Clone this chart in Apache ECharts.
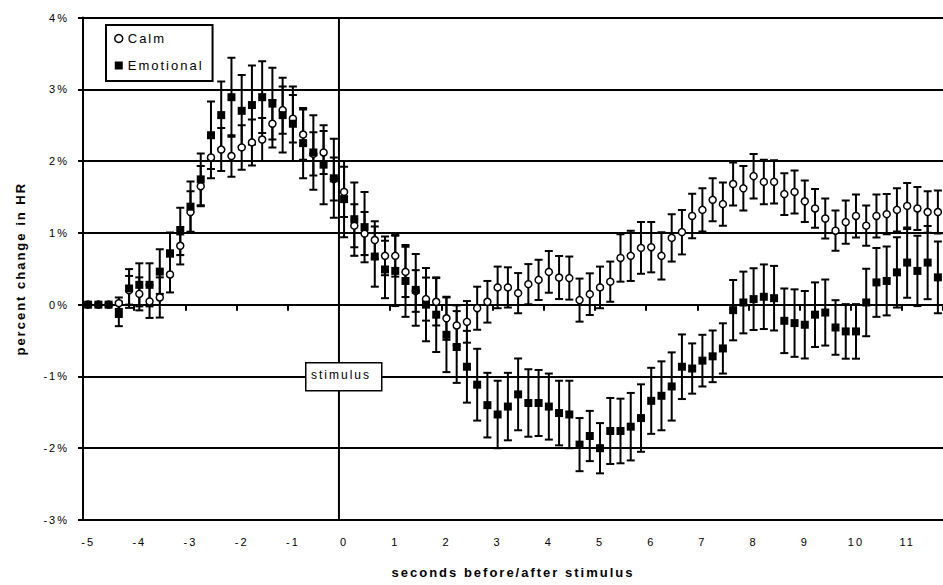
<!DOCTYPE html>
<html>
<head>
<meta charset="utf-8">
<script src="https://cdn.jsdelivr.net/npm/echarts@6/dist/echarts.min.js"></script>
<style>
  html, body { margin: 0; padding: 0; background: #fff; }
  #chart { width: 943px; height: 585px; }
  #chart text { letter-spacing: 2px; }
</style>
</head>
<body>
<div id="chart"></div>
<script>
// time of each sample (s), 0.2 s apart
const seconds = [-5,-4.8,-4.6,-4.4,-4.2,-4,-3.8,-3.6,-3.4,-3.2,-3,-2.8,-2.6,-2.4,-2.2,-2,-1.8,-1.6,-1.4,-1.2,-1,-0.8,-0.6,-0.4,-0.2,0,0.2,0.4,0.6,0.8,1,1.2,1.4,1.6,1.8,2,2.2,2.4,2.6,2.8,3,3.2,3.4,3.6,3.8,4,4.2,4.4,4.6,4.8,5,5.2,5.4,5.6,5.8,6,6.2,6.4,6.6,6.8,7,7.2,7.4,7.6,7.8,8,8.2,8.4,8.6,8.8,9,9.2,9.4,9.6,9.8,10,10.2,10.4,10.6,10.8,11,11.2,11.4,11.6];
const xTickLabels = ['-5','-4','-3','-2','-1','0','1','2','3','4','5','6','7','8','9','10','11'];
const yTickLabels = ['-3%','-2%','-1%','0%','1%','2%','3%','4%'];

// Calm: mean % change in HR and error (±)
const calmMean = [0,0,0,0.02,0.2,0.15,0.045,0.10,0.42,0.82,1.29,1.65,2.05,2.16,2.07,2.19,2.26,2.30,2.52,2.71,2.59,2.37,2.1,2.12,1.75,1.57,1.10,0.99,0.90,0.68,0.68,0.456,0.19,0.077,0.04,-0.19,-0.29,-0.24,-0.05,0.04,0.24,0.24,0.16,0.285,0.345,0.456,0.378,0.37,0.063,0.146,0.24,0.32,0.65,0.68,0.79,0.80,0.68,0.93,1.01,1.235,1.32,1.46,1.40,1.68,1.62,1.79,1.71,1.71,1.54,1.57,1.44,1.34,1.20,1.03,1.15,1.235,1.10,1.235,1.26,1.32,1.375,1.34,1.29,1.29];
const calmErr = [0,0,0,0.08,0.2,0.23,0.23,0.28,0.25,0.26,0.29,0.28,0.29,0.3,0.29,0.31,0.32,0.3,0.33,0.33,0.33,0.35,0.3,0.3,0.3,0.35,0.3,0.3,0.26,0.27,0.29,0.35,0.29,0.3,0.33,0.3,0.28,0.29,0.3,0.29,0.29,0.28,0.28,0.28,0.28,0.29,0.3,0.3,0.3,0.29,0.29,0.28,0.33,0.35,0.36,0.35,0.33,0.33,0.31,0.31,0.3,0.3,0.3,0.3,0.31,0.31,0.31,0.3,0.29,0.3,0.29,0.27,0.28,0.28,0.3,0.3,0.28,0.3,0.28,0.3,0.32,0.3,0.29,0.3];

// Emotional: mean % change in HR and error (±)
const emoMean = [0,0,0,-0.13,0.225,0.276,0.276,0.46,0.716,1.02,1.365,1.745,2.36,2.64,2.89,2.70,2.78,2.89,2.80,2.64,2.52,2.25,2.12,1.95,1.76,1.47,1.19,1.08,0.67,0.49,0.47,0.33,0.206,0.0,-0.14,-0.42,-0.59,-0.865,-1.115,-1.40,-1.53,-1.42,-1.25,-1.37,-1.37,-1.42,-1.51,-1.53,-1.95,-1.83,-2.0,-1.76,-1.76,-1.70,-1.58,-1.34,-1.27,-1.14,-0.865,-0.89,-0.78,-0.72,-0.61,-0.077,0.03,0.077,0.11,0.09,-0.225,-0.257,-0.28,-0.14,-0.11,-0.318,-0.373,-0.373,0.03,0.31,0.33,0.45,0.586,0.47,0.586,0.38];
const emoErr = [0,0,0,0.17,0.27,0.3,0.3,0.31,0.29,0.33,0.35,0.36,0.47,0.47,0.55,0.5,0.55,0.5,0.5,0.52,0.52,0.49,0.52,0.55,0.55,0.53,0.51,0.49,0.42,0.4,0.49,0.5,0.5,0.51,0.52,0.52,0.5,0.5,0.5,0.45,0.47,0.47,0.5,0.47,0.46,0.46,0.45,0.47,0.37,0.35,0.35,0.46,0.45,0.47,0.47,0.46,0.48,0.475,0.45,0.35,0.36,0.36,0.35,0.42,0.43,0.43,0.45,0.45,0.45,0.47,0.47,0.45,0.46,0.38,0.38,0.38,0.47,0.48,0.48,0.49,0.49,0.49,0.51,0.5];

const categories = seconds.map(String);
const stimulusIndex = seconds.indexOf(0);

function errBars(params, api) {
  const i = api.value(0), v = api.value(1), e = api.value(2);
  if (!e) return null;
  const top = api.coord([i, v + e]);
  const bot = api.coord([i, v - e]);
  const hw = 4;
  const st = { stroke: '#000', lineWidth: 2 };
  return {
    type: 'group',
    children: [
      { type: 'line', shape: { x1: top[0], y1: top[1], x2: bot[0], y2: bot[1] }, style: st },
      { type: 'line', shape: { x1: top[0] - hw, y1: top[1], x2: top[0] + hw, y2: top[1] }, style: st },
      { type: 'line', shape: { x1: bot[0] - hw, y1: bot[1], x2: bot[0] + hw, y2: bot[1] }, style: st }
    ]
  };
}

// vertical stimulus line on the category boundary just before t = 0
function stimulusLine(params, api) {
  const c = api.coord([api.value(0), 0]);
  const bw = api.size([1, 0])[0];
  const x = c[0] - bw / 2;
  const cs = params.coordSys;
  return {
    type: 'line',
    shape: { x1: x, y1: cs.y, x2: x, y2: cs.y + cs.height },
    style: { stroke: '#000', lineWidth: 2 }
  };
}

const chart = echarts.init(document.getElementById('chart'), null, { renderer: 'svg' });
const font = 'Liberation Sans, Arial, sans-serif';

chart.setOption({
  animation: false,
  backgroundColor: '#fff',
  grid: { left: 83, top: 17.5, bottom: 65, right: -7.7, containLabel: false },
  legend: {
    orient: 'vertical',
    left: 106,
    top: 25,
    padding: [7, 27, 9, 8],
    itemGap: 14,
    itemWidth: 8,
    itemHeight: 8,
    borderColor: '#000',
    borderWidth: 2,
    backgroundColor: '#fff',
    textStyle: { fontFamily: font, fontSize: 13, color: '#000' },
    data: [
      { name: 'Calm', icon: 'circle', itemStyle: { color: '#fff', borderColor: '#000', borderWidth: 1.5 } },
      { name: 'Emotional', icon: 'rect', itemStyle: { color: '#000' } }
    ]
  },
  xAxis: {
    type: 'category',
    data: categories,
    boundaryGap: true,
    name: 'seconds before/after stimulus',
    nameLocation: 'middle',
    nameGap: 46,
    nameTextStyle: { fontFamily: font, fontSize: 13, fontWeight: 'bold', color: '#000' },
    axisLine: { show: true, lineStyle: { color: '#000', width: 2 } },
    axisTick: { show: true, interval: 4, length: 6, lineStyle: { color: '#000', width: 2 } },
    axisLabel: {
      interval: 4,
      margin: 16,
      fontFamily: font, fontSize: 11, color: '#000',
      formatter: (v) => xTickLabels.includes(v) ? v : ''
    },
    splitLine: { show: false }
  },
  yAxis: {
    type: 'value',
    min: -3, max: 4, interval: 1,
    name: 'percent change in HR',
    nameLocation: 'middle',
    nameGap: 56,
    nameTextStyle: { fontFamily: font, fontSize: 13, fontWeight: 'bold', color: '#000' },
    axisLine: { show: true, lineStyle: { color: '#000', width: 2 } },
    axisTick: { show: true, length: 5, lineStyle: { color: '#000', width: 2 } },
    axisLabel: {
      margin: 14,
      fontFamily: font, fontSize: 11, color: '#000',
      formatter: (v) => yTickLabels[Math.round(v) + 3]
    },
    splitLine: { show: true, lineStyle: { color: '#000', width: 2 } }
  },
  graphic: [
    {
      type: 'rect', left: 305, top: 362, z: 100, zlevel: 0,
      shape: { width: 76, height: 28 },
      style: { fill: '#ffffff', stroke: '#000', lineWidth: 1.5 }
    },
    {
      type: 'text', left: 311, top: 369, z: 101, zlevel: 0,
      style: { text: 'stimulus', font: '12px Liberation Sans, Arial, sans-serif', fill: '#000' }
    }
  ],
  series: [
    {
      name: 'stimulus line', type: 'custom', renderItem: stimulusLine, clip: false,
      encode: { x: 0, y: 1 }, silent: true,
      data: [[stimulusIndex, 0]], z: 1
    },
    {
      name: 'Calm err', type: 'custom', renderItem: errBars, clip: true,
      encode: { x: 0, y: 1 },
      data: calmMean.map((v, i) => [i, v, calmErr[i]]), z: 3
    },
    {
      name: 'Emotional err', type: 'custom', renderItem: errBars, clip: true,
      encode: { x: 0, y: 1 },
      data: emoMean.map((v, i) => [i, v, emoErr[i]]), z: 3
    },
    {
      name: 'Calm', type: 'scatter', symbol: 'circle', symbolSize: 7, z: 4,
      itemStyle: { color: '#fff', borderColor: '#000', borderWidth: 1.5, opacity: 1 },
      data: calmMean
    },
    {
      name: 'Emotional', type: 'scatter', symbol: 'rect', symbolSize: 8, z: 5,
      itemStyle: { color: '#000', opacity: 1 },
      data: emoMean
    }
  ]
});
</script>
</body>
</html>
